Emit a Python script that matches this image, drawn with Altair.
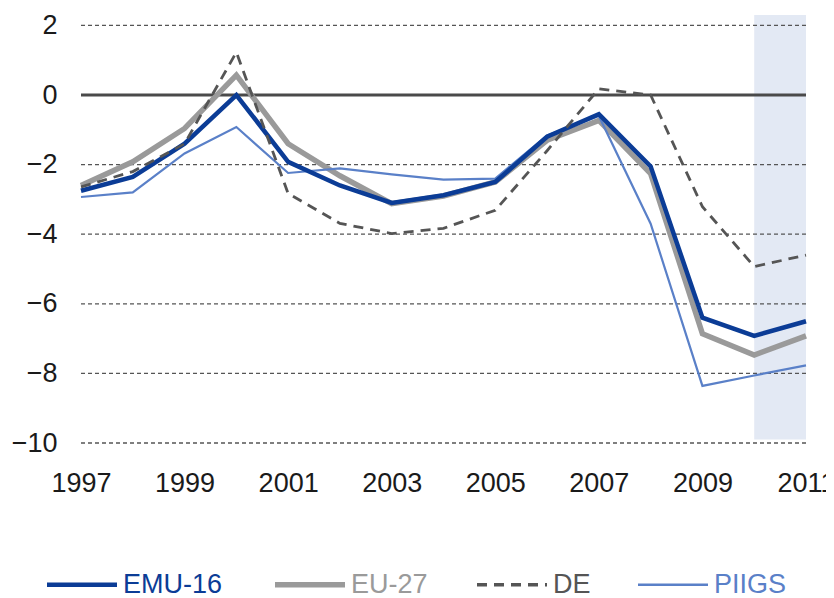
import altair as alt
import pandas as pd

years = list(range(1997, 2012))
series_names = ["EMU-16", "EU-27", "DE", "PIIGS"]
emu16 = [-2.75, -2.35, -1.4, 0.0, -1.92, -2.6, -3.1, -2.88, -2.5, -1.2, -0.55, -2.05, -6.4, -6.92, -6.5]
eu27 = [-2.6, -1.92, -0.96, 0.57, -1.4, -2.32, -3.12, -2.9, -2.5, -1.3, -0.73, -2.26, -6.86, -7.47, -6.92]
de = [-2.64, -2.2, -1.4, 1.23, -2.83, -3.69, -3.98, -3.83, -3.31, -1.6, 0.18, 0.0, -3.21, -4.93, -4.6]
piigs = [-2.93, -2.8, -1.68, -0.92, -2.24, -2.11, -2.28, -2.43, -2.4, -1.16, -0.6, -3.7, -8.36, -8.06, -7.77]

x_ticks = [1997, 1999, 2001, 2003, 2005, 2007, 2009, 2011]
y_ticks = [2, 0, -2, -4, -6, -8, -10]
grid_dashed = [2, -2, -4, -6, -8, -10]
shade_years = [2010, 2011]
shade_y = [-9.9, 2.3]

colors = ["#0b3c96", "#9a9a9a", "#555555", "#5a80c8"]
widths = {"EMU-16": 4.5, "EU-27": 5.5, "DE": 2.8, "PIIGS": 2.2}
dash_de = [10, 7]

FONT = "Liberation Sans"
FS = 27

values_by_series = {"EMU-16": emu16, "EU-27": eu27, "DE": de, "PIIGS": piigs}
rows = []
for name in series_names:
    for y, v in zip(years, values_by_series[name]):
        rows.append({"year": y, "value": v, "series": name})
df = pd.DataFrame(rows)

xscale = alt.Scale(domain=[1997, 2011], nice=False, zero=False)
yscale = alt.Scale(domain=[-10, 2.3], nice=False, zero=False)

shade = alt.Chart(pd.DataFrame({"x": [shade_years[0]], "x2": [shade_years[1]],
                                "y": [shade_y[0]], "y2": [shade_y[1]]})).mark_rect(
    color="#e3e9f4").encode(
    x=alt.X("x:Q", scale=xscale, axis=alt.Axis(
        values=x_ticks, format="d", title=None, grid=False, ticks=False, domain=False,
        labelFont=FONT, labelFontSize=FS, labelColor="#1a1a1a", labelPadding=27,
        labelFlush=False, labelOverlap=False)),
    x2="x2:Q",
    y=alt.Y("y:Q", scale=yscale, axis=alt.Axis(
        values=y_ticks, format="d", title=None, grid=False, ticks=False, domain=False,
        labelFont=FONT, labelFontSize=FS, labelColor="#1a1a1a", labelPadding=24)),
    y2="y2:Q",
)

grid = alt.Chart(pd.DataFrame({"g": grid_dashed})).mark_rule(
    color="#555555", strokeWidth=1.3, strokeDash=[4, 3]).encode(
    y=alt.Y("g:Q", scale=yscale))

zero = alt.Chart(pd.DataFrame({"z": [0]})).mark_rule(
    color="#4a4a4a", strokeWidth=3).encode(y=alt.Y("z:Q", scale=yscale))

legend = alt.Legend(
    title=None, orient="none", legendX=-12.5, legendY=556, direction="horizontal",
    columns=4, symbolType="stroke", symbolSize=4900, columnPadding=41,
    labelFont=FONT, labelFontSize=FS, labelOffset=27.5, padding=0,
    labelLimit=300,
    labelColor={"expr": "scale('color', datum.value)"},
    symbolStrokeWidth={"expr": "(datum && datum.value === 'EMU-16') ? 4.5 : (datum && datum.value === 'EU-27') ? 5.5 : (datum && datum.value === 'PIIGS') ? 2.5 : 3.5"},
    symbolDash={"expr": "(datum && datum.value === 'DE') ? [10, 7] : [1, 0]"},
)

color = alt.Color("series:N", scale=alt.Scale(domain=series_names, range=colors), legend=legend)


def series_layer(name, dash=None):
    kw = dict(strokeWidth=widths[name], strokeJoin="miter", strokeCap="butt")
    if dash:
        kw["strokeDash"] = dash
    return alt.Chart(df).transform_filter(alt.datum.series == name).mark_line(**kw).encode(
        x=alt.X("year:Q", scale=xscale),
        y=alt.Y("value:Q", scale=yscale),
        color=color,
    )


layers = [series_layer("EU-27"), series_layer("PIIGS"), series_layer("EMU-16"),
          series_layer("DE", dash_de)]

chart = alt.layer(shade, grid, zero, *layers).properties(
    width=725, height=428,
    autosize=alt.AutoSizeParams(type="none"),
    padding={"left": 73, "top": 7, "right": 20, "bottom": 155},
).configure_view(stroke=None)

chart.save("out.html", embed_options={"renderer": "svg", "actions": False})
